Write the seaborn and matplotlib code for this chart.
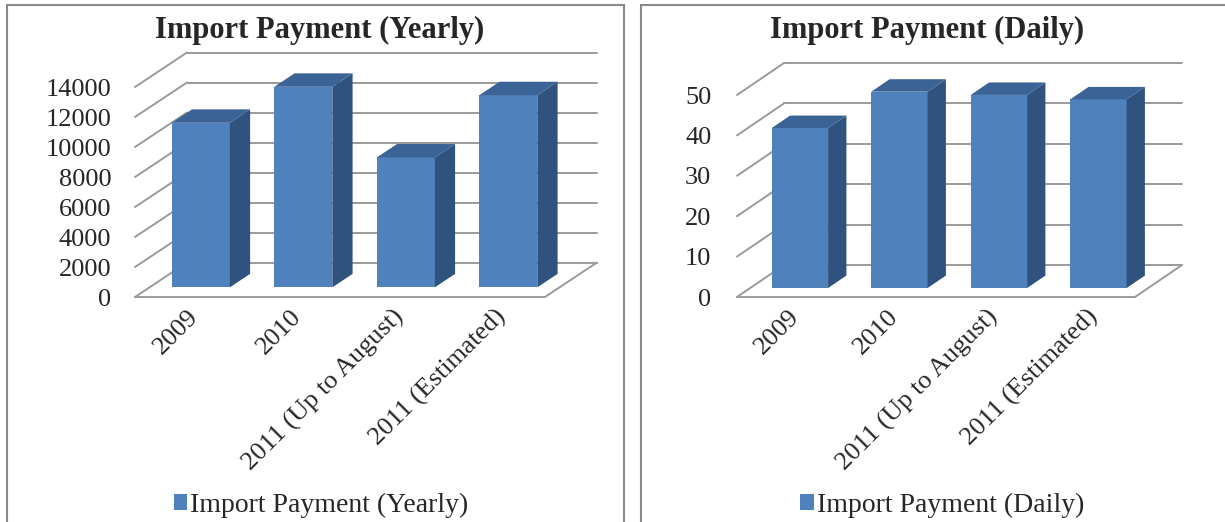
import matplotlib
matplotlib.use("Agg")
import matplotlib.pyplot as plt
import seaborn as sns
import pandas as pd
from matplotlib.patches import Polygon, Rectangle, Patch
import matplotlib.transforms as mtransforms

categories = ["2009", "2010", "2011 (Up to August)", "2011 (Estimated)"]
yearly_values = [10970, 13370, 8660, 12810]
daily_values = [39.6, 48.6, 47.8, 46.7]
yearly_ticks = [0, 2000, 4000, 6000, 8000, 10000, 12000, 14000]
daily_ticks = [0, 10, 20, 30, 40, 50]
yearly_title = "Import Payment (Yearly)"
daily_title = "Import Payment (Daily)"

sns.set_style("white")
plt.rcParams["font.family"] = ["Liberation Serif", "DejaVu Serif"]

W, H = 1225, 522
fig = plt.figure(figsize=(W / 100, H / 100), dpi=100)

FRONT = "#4F81BD"
SIDE = "#30527E"
TOP = "#3B6396"
GRID = "#9a9a9a"


def panel(box, cat_px, unit_px, dx_px, dy_px, values, ticks, title,
          title_x, legend_x, ypad):
    left, right, bottom, top = box
    ax = fig.add_axes([left / W, 1 - bottom / H, (right - left) / W,
                       (bottom - top) / H])
    n = len(categories)
    xlo = -0.5
    DXc = dx_px / cat_px
    DYv = dy_px / unit_px
    z0, z1 = 0.28, 0.67
    bw = 0.566
    df = pd.DataFrame({"cat": categories, "val": values})
    sns.barplot(data=df, x="cat", y="val", ax=ax, color=FRONT,
                saturation=1, width=bw, linewidth=0, zorder=3)
    ax.set_xlim(xlo, xlo + (right - left) / cat_px)
    ax.set_ylim(0, (bottom - top) / unit_px)
    ax.set_xlabel("")
    ax.set_ylabel("")
    for s in ax.spines.values():
        s.set_visible(False)

    # grid: back wall + left wall diagonals
    for t in ticks:
        ax.plot([xlo + DXc, xlo + n + DXc], [t + DYv, t + DYv],
                color=GRID, lw=1.4, zorder=1, clip_on=False)
        ax.plot([xlo, xlo + DXc], [t, t + DYv], color=GRID, lw=1.4,
                zorder=1, clip_on=False)
    # floor
    ax.plot([xlo, xlo + n, xlo + n + DXc], [0, 0, DYv], color=GRID,
            lw=1.4, zorder=1, clip_on=False)

    d = z1 - z0
    for p, v in zip(ax.patches, values):
        p.set_x(p.get_x() + z0 * DXc)
        p.set_y(z0 * DYv)
        xl = p.get_x()
        xr = xl + p.get_width()
        yb = p.get_y()
        yt = yb + v
        side = Polygon([(xr, yb), (xr + d * DXc, yb + d * DYv),
                        (xr + d * DXc, yt + d * DYv), (xr, yt)],
                       closed=True, facecolor=SIDE, edgecolor="none",
                       zorder=3)
        topf = Polygon([(xl, yt), (xr, yt), (xr + d * DXc, yt + d * DYv),
                        (xl + d * DXc, yt + d * DYv)], closed=True,
                       facecolor=TOP, edgecolor="none", zorder=3)
        ax.add_patch(side)
        ax.add_patch(topf)

    ax.set_yticks(ticks)
    ax.set_yticklabels([str(t) for t in ticks])
    ax.tick_params(axis="y", length=0, pad=ypad, labelsize=19)
    ax.set_xticks(range(n))
    ax.set_xticklabels(categories)
    ax.tick_params(axis="x", length=0, pad=12, labelsize=19)
    off = mtransforms.ScaledTranslation(9 / 100, 0, fig.dpi_scale_trans)
    for lab in ax.get_xticklabels():
        lab.set_rotation(45)
        lab.set_ha("right")
        lab.set_va("center")
        lab.set_rotation_mode("anchor")
        lab.set_transform(lab.get_transform() + off)

    ax.legend(handles=[Patch(facecolor=FRONT, edgecolor="none")],
              labels=[title], loc="center",
              bbox_to_anchor=(legend_x / W, 1 - 505 / H),
              bbox_transform=fig.transFigure, frameon=False, fontsize=20,
              handlelength=0.5, handleheight=0.5, handletextpad=0.1)
    fig.text(title_x / W, 1 - 30 / H, title, ha="center", va="center",
             fontsize=22, fontweight="bold")
    return ax


panel((135, 600, 297, 45), 102.5, 0.015, 52, 34.5, yearly_values,
      yearly_ticks, yearly_title, 320, 321, 17)
panel((737, 1190, 297, 55), 99.5, 4.04, 47, 32, daily_values,
      daily_ticks, daily_title, 927, 942, 18.5)

# panel frames
fig.add_artist(Rectangle((7 / W, -0.1), (624 - 7) / W, 1 - 5 / H + 0.1,
                         transform=fig.transFigure, fill=False,
                         edgecolor="#8a8a8a", lw=1.5))
fig.add_artist(Rectangle((641 / W, -0.1), 1, 1 - 5 / H + 0.1,
                         transform=fig.transFigure, fill=False,
                         edgecolor="#8a8a8a", lw=1.5))

fig.savefig("out.png", dpi=100)
